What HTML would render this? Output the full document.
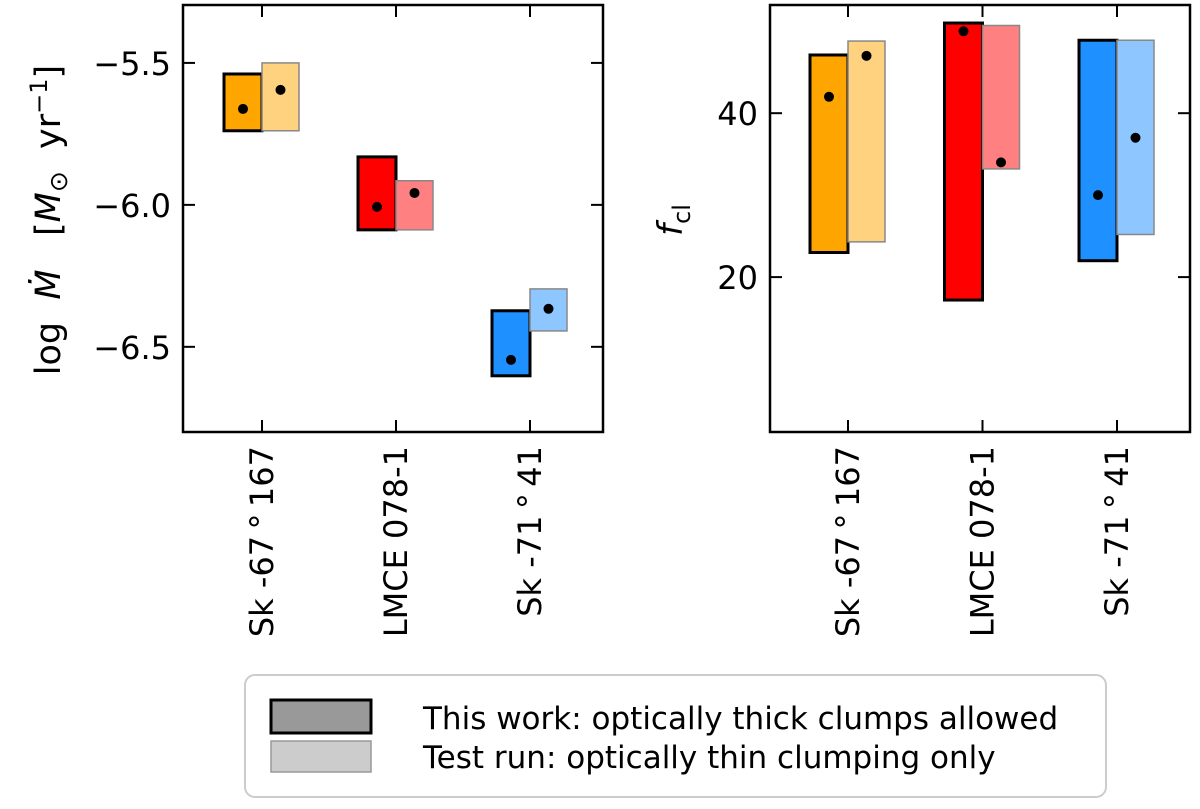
<!DOCTYPE html>
<html><head><meta charset="utf-8"><style>
body{margin:0;background:#fff;}
svg text{font-family:"DejaVu Sans","Liberation Sans",sans-serif;fill:#000;}
</style></head><body>
<svg id="chart" width="1200" height="804" viewBox="0 0 1200 804" xmlns="http://www.w3.org/2000/svg">
<g id="left"></g>
<g id="right"></g>
<text transform="translate(60,220) rotate(-90)" text-anchor="middle" font-size="35" xml:space="preserve">log  <tspan font-style="italic">M&#775;</tspan>   [<tspan font-style="italic">M</tspan><tspan font-size="25" dy="7">&#8857;</tspan><tspan dy="-7">  yr</tspan><tspan font-size="24" dy="-13">&#8722;1</tspan><tspan dy="13">]</tspan></text>
<text transform="translate(682,220) rotate(-90)" text-anchor="middle" font-size="34"><tspan font-style="italic">f</tspan><tspan font-size="24" dy="8">cl</tspan></text>
<g>
<rect x="245" y="675" width="861" height="122" rx="10" fill="#fff" stroke="#ccc" stroke-width="2"/>
<rect x="271" y="700" width="100" height="33" fill="#999" stroke="#000" stroke-width="3"/>
<rect x="271" y="741" width="100" height="31" fill="#ccc" stroke="#999" stroke-width="1.5"/>
<text x="423" y="729" font-size="31">This work: optically thick clumps allowed</text>
<text x="423" y="768" font-size="31">Test run: optically thin clumping only</text>
</g>
</svg>
<script>
const stars = ["Sk -67\u2009\u00b0\u2009167", "LMCE 078-1", "Sk -71\u2009\u00b0\u200941"];
const darkColors = ["#FFA500", "#FF0000", "#1E90FF"];
const lightColors = ["#FFD280", "#FF8080", "#8EC7FF"];
const mdotThickLo = [-5.739, -6.088, -6.602];
const mdotThickHi = [-5.539, -5.831, -6.373];
const mdotThickBest = [-5.662, -6.007, -6.546];
const mdotThinLo = [-5.739, -6.088, -6.444];
const mdotThinHi = [-5.500, -5.915, -6.296];
const mdotThinBest = [-5.595, -5.958, -6.366];
const fclThickLo = [23.0, 17.2, 22.0];
const fclThickHi = [47.1, 51.0, 48.9];
const fclThickBest = [42.0, 50.0, 30.0];
const fclThinLo = [24.3, 33.2, 25.2];
const fclThinHi = [48.8, 50.7, 48.9];
const fclThinBest = [47.0, 34.0, 37.0];
const mdotTicks = [-5.5, -6.0, -6.5];
const mdotTickLabels = ["\u22125.5", "\u22126.0", "\u22126.5"];
const fclTicks = [40, 20];
const fclTickLabels = ["40", "20"];

const NS = "http://www.w3.org/2000/svg";
function mk(parent, tag, attrs, txt){
  const e = document.createElementNS(NS, tag);
  for (const k in attrs) e.setAttribute(k, attrs[k]);
  if (txt !== undefined) e.textContent = txt;
  parent.appendChild(e);
  return e;
}
function panel(g, ax, ymin, ymax, ticks, tickLabels, tLo, tHi, tBest, lLo, lHi, lBest, prefix){
  const top = 5, bot = 432;
  const y = v => bot - (v - ymin) / (ymax - ymin) * (bot - top);
  const x = i => ax.x0 + ax.first + i * ax.step;
  for (let i = 0; i < stars.length; i++){
    const xc = x(i);
    let r = mk(g, "rect", {x: xc - 38, y: y(tHi[i]), width: 38, height: y(tLo[i]) - y(tHi[i]), fill: darkColors[i], stroke: "#000", "stroke-width": 3});
    
    
    r = mk(g, "rect", {x: xc, y: y(lHi[i]), width: 37, height: y(lLo[i]) - y(lHi[i]), fill: lightColors[i], stroke: "#888", "stroke-width": 1.5});
    
    
    let c = mk(g, "circle", {cx: xc - 19, cy: y(tBest[i]), r: 5, fill: "#000"});
    
    
    c = mk(g, "circle", {cx: xc + 18.5, cy: y(lBest[i]), r: 5, fill: "#000"});
    
    
    mk(g, "line", {x1: xc, x2: xc, y1: top, y2: top + 12, stroke: "#000", "stroke-width": 2});
    mk(g, "line", {x1: xc, x2: xc, y1: bot, y2: bot - 12, stroke: "#000", "stroke-width": 2});
    const t = mk(g, "text", {x: 0, y: 0, "font-size": 32, "text-anchor": "end", transform: `translate(${xc + 11},446) rotate(-90)`}, stars[i]);
    
    
  }
  ticks.forEach((v, k) => {
    mk(g, "line", {x1: ax.x0, x2: ax.x0 + 12, y1: y(v), y2: y(v), stroke: "#000", "stroke-width": 2});
    mk(g, "line", {x1: ax.x1, x2: ax.x1 - 12, y1: y(v), y2: y(v), stroke: "#000", "stroke-width": 2});
    const t = mk(g, "text", {x: ax.x0 - 12, y: y(v) + 12, "font-size": 32, "text-anchor": "end"}, tickLabels[k]);
    
    
  });
  const f = mk(g, "rect", {x: ax.x0, y: top, width: ax.x1 - ax.x0, height: bot - top, fill: "none", stroke: "#000", "stroke-width": 2.5});
  
  
}
panel(document.getElementById("left"), {x0: 183, x1: 603, first: 79, step: 134}, -6.80, -5.296,
  mdotTicks, mdotTickLabels, mdotThickLo, mdotThickHi, mdotThickBest, mdotThinLo, mdotThinHi, mdotThinBest, "mdot");
panel(document.getElementById("right"), {x0: 770, x1: 1190, first: 78, step: 134.5}, 1.1, 53.2,
  fclTicks, fclTickLabels, fclThickLo, fclThickHi, fclThickBest, fclThinLo, fclThinHi, fclThinBest, "fcl");
</script>
</body></html>
